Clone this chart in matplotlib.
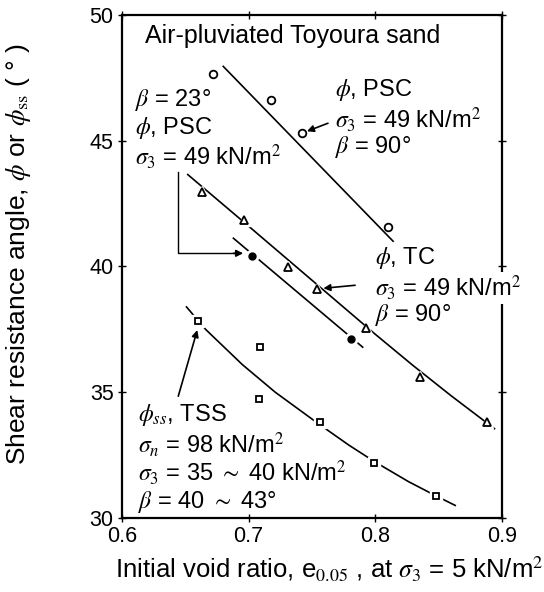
import matplotlib
matplotlib.use("Agg")
import matplotlib.pyplot as plt

plt.rcParams['font.family'] = ['Liberation Sans', 'DejaVu Sans']
plt.rcParams['mathtext.fontset'] = 'stix'

# measured points
e_psc90 = [0.672, 0.718, 0.742, 0.810]
phi_psc90 = [47.64, 46.6, 45.29, 41.56]

e_tc90 = [0.663, 0.696, 0.731, 0.754, 0.793, 0.835, 0.888]
phi_tc90 = [42.95, 41.84, 39.97, 39.1, 37.55, 35.6, 33.8]

e_psc23 = [0.703, 0.781]
phi_psc23 = [40.41, 37.1]

e_tss = [0.660, 0.709, 0.708, 0.756, 0.799, 0.848]
phi_tss = [37.82, 36.79, 34.72, 33.8, 32.18, 30.87]

# trend lines
fit_psc90_e = [0.680, 0.814]
fit_psc90_phi = [47.95, 41.0]
fit_tc90_e = [0.652, 0.700, 0.750, 0.800, 0.830, 0.860, 0.894]
fit_tc90_phi = [43.65, 41.6, 39.45, 37.3, 36.05, 34.85, 33.55]
fit_psc23_e = [0.688, 0.790]
fit_psc23_phi = [41.12, 36.79]
fit_tss_e = [0.651, 0.666, 0.695, 0.721, 0.755, 0.779, 0.799, 0.826, 0.847, 0.863]
fit_tss_phi = [38.39, 37.5, 36.1, 35.0, 33.75, 32.9, 32.25, 31.45, 30.9, 30.5]

xticks = [0.6, 0.7, 0.8, 0.9]
yticks = [30, 35, 40, 45, 50]

fig = plt.figure(figsize=(5.44, 5.92), dpi=100)
ax = fig.add_axes([0.224, 0.125, 0.699, 0.850])

lw = 1.2
ax.plot(fit_psc90_e, fit_psc90_phi, color='black', lw=lw, zorder=2)
ax.plot(fit_tc90_e, fit_tc90_phi, color='black', lw=lw, zorder=2)
ax.plot(fit_psc23_e, fit_psc23_phi, color='black', lw=lw, zorder=2)
ax.plot(fit_tss_e, fit_tss_phi, color='black', lw=lw, zorder=2)

# white halo so the lines break around the symbols
ax.plot(e_psc23, phi_psc23, 'o', ms=9, color='white', zorder=3)
ax.plot(e_tss, phi_tss, 's', ms=9, color='white', zorder=3)
ax.plot(e_tc90, phi_tc90, '^', ms=9, color='white', zorder=3)

ax.plot(e_psc90, phi_psc90, 'o', ms=5.5, mfc='white', mec='black', mew=1.3, zorder=4)
ax.plot(e_tc90, phi_tc90, '^', ms=6, mfc='white', mec='black', mew=1.3, zorder=4)
ax.plot(e_psc23, phi_psc23, 'o', ms=5, color='black', zorder=4)
ax.plot(e_tss, phi_tss, 's', ms=5, mfc='white', mec='black', mew=1.3, zorder=4)

ax.set_xlim(0.6, 0.9)
ax.set_ylim(30, 50)
ax.set_xticks(xticks)
ax.set_yticks(yticks)
ax.set_xticklabels([f"{v:.1f}" for v in xticks])
ax.tick_params(direction='inout', length=6, width=1, labelsize=15.5,
               top=True, right=True, pad=3)
for s in ax.spines.values():
    s.set_linewidth(1.6)
    s.set_zorder(1)

ax.set_xlabel(r"Initial void ratio, e$_{\mathit{0.05}}$ , at $\sigma_\mathit{3}$ = 5 kN/m$^2$",
              fontsize=18.5)
ax.xaxis.set_label_coords(0.545, -0.072)
ax.set_ylabel(r"Shear resistance angle, $\phi$ or $\phi_\mathrm{ss}$ ( ° )",
              fontsize=19)
ax.yaxis.set_label_coords(-0.234, 0.525)

fs = 17
ax.text(0.061, 0.958, "Air-pluviated Toyoura sand", transform=ax.transAxes,
        fontsize=18, va='center', ha='left')

def block(x, ys, lines, bg=False):
    for y, s in zip(ys, lines):
        t = ax.text(x, y, s, transform=ax.transAxes, fontsize=fs,
                    va='center', ha='left', zorder=5, clip_on=False)
        if bg:
            t.set_bbox(dict(facecolor='white', edgecolor='none', pad=1))

block(0.034, [0.831, 0.775, 0.718],
      [r"$\beta$ = 23°", r"$\phi$, PSC", r"$\sigma_\mathit{3}$ = 49 kN/m$^2$"])
block(0.561, [0.851, 0.791, 0.738],
      [r"$\phi$, PSC", r"$\sigma_\mathit{3}$ = 49 kN/m$^2$", r"$\beta$ = 90°"])
block(0.666, [0.517, 0.457, 0.404],
      [r"$\phi$, TC", r"$\sigma_\mathit{3}$ = 49 kN/m$^2$", r"$\beta$ = 90°"], bg=True)
block(0.042, [0.205, 0.145, 0.091, 0.032],
      [r"$\phi_\mathit{ss}$, TSS", r"$\sigma_\mathit{n}$ = 98 kN/m$^2$",
       r"$\sigma_\mathit{3}$ = 35 $\sim$ 40 kN/m$^2$", r"$\beta$ = 40 $\sim$ 43°"])

arrow = dict(arrowstyle='-|>', color='black', lw=1.2, mutation_scale=10,
             shrinkA=0, shrinkB=0)
ax.annotate("", xy=(0.746, 45.37), xytext=(0.7626, 45.69), arrowprops=arrow)
ax.annotate("", xy=(0.759, 39.13), xytext=(0.784, 39.25), arrowprops=arrow)
ax.annotate("", xy=(0.6595, 37.47), xytext=(0.6445, 34.84), arrowprops=arrow)
# bracket from the beta = 23 label down to the filled dots
ax.plot([0.6445, 0.6445, 0.690], [43.74, 40.52, 40.52], color='black', lw=1, zorder=2)
ax.annotate("", xy=(0.6957, 40.52), xytext=(0.688, 40.52), arrowprops=arrow)

fig.savefig("out.png", dpi=100)
